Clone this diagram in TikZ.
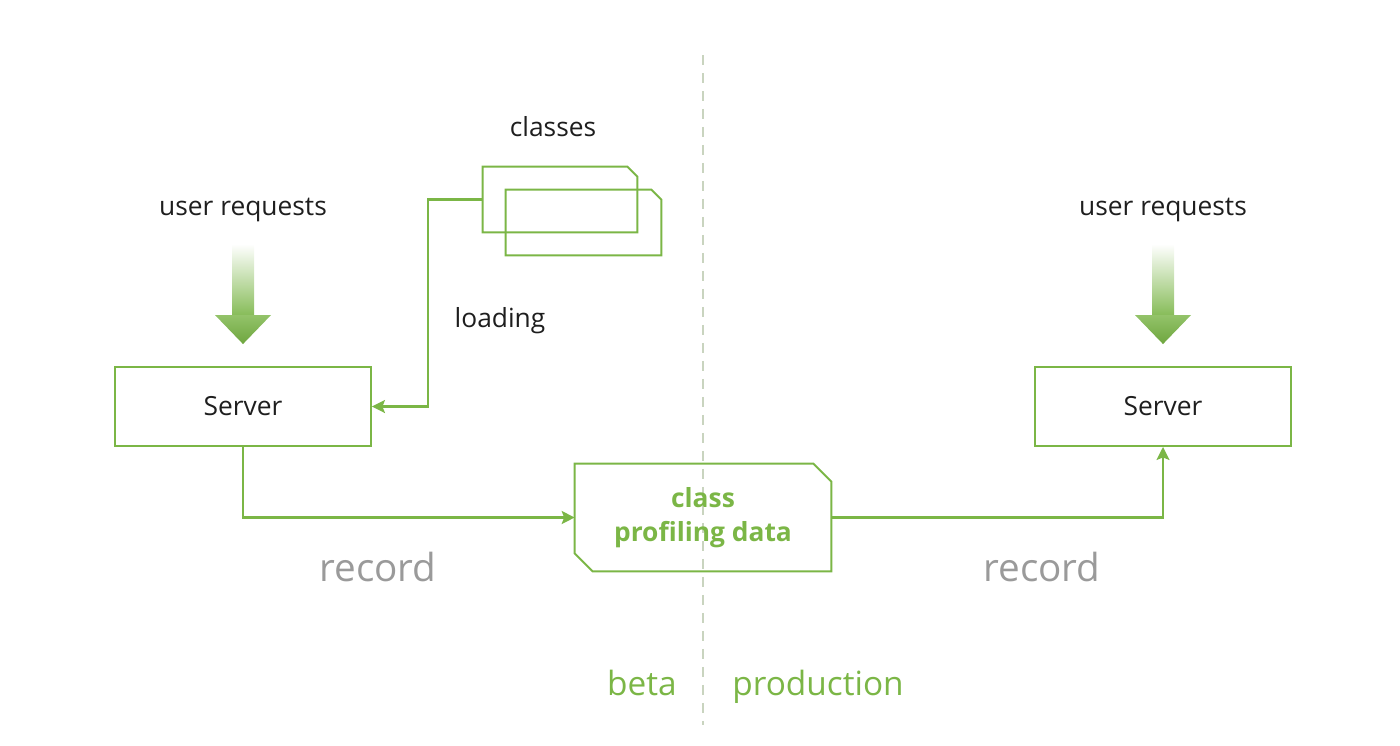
\documentclass[tikz,border=0pt]{standalone}
\usepackage{fontspec}
\setmainfont{Open Sans}
\usetikzlibrary{calc,arrows.meta}

\definecolor{lgreen}{HTML}{7BB646}
\definecolor{agreen}{HTML}{78B444}
\definecolor{recgrey}{HTML}{9A9A9A}
\definecolor{divgrey}{HTML}{C9D4BF}
\definecolor{txt}{HTML}{1E1E1E}

\tikzset{
  box/.style={draw=lgreen, line width=1.1pt, minimum width=5.12cm, minimum height=1.58cm, font=\fontsize{15}{18}\selectfont, text=txt},
  lbl/.style={font=\fontsize{15}{18}\selectfont, text=txt},
  rec/.style={font=\fontsize{22}{26}\selectfont, text=recgrey},
  env/.style={font=\fontsize{19}{22}\selectfont, text=lgreen},
  conn/.style={draw=lgreen, line width=1.2pt, -{Stealth[length=0.26cm, width=0.26cm, inset=0.05cm]}},
  outline/.style={draw=lgreen, line width=1.1pt},
}

% richieste in ingresso, freccia sfumata sopra un server
\newcommand{\reqarrow}[1]{%
  \shade[top color=white, bottom color=agreen!90] ($(#1.north)+(-11,-122)$) rectangle ($(#1.north)+(11,-50)$);
  \shade[top color=agreen!80!white, bottom color=agreen!92!black] ($(#1.north)+(-28,-51)$) -- ($(#1.north)+(28,-51)$) -- ($(#1.north)+(0,-22)$) -- cycle;
}

% documento con angolo tagliato
\newcommand{\docshape}[2]{%
  \draw[outline] (#1.south west) -- (#1.north west) -- ($(#1.north east)+(-#2,0)$) -- ($(#1.north east)+(0,#2)$) -- (#1.south east) -- cycle;
}

\begin{document}
\begin{tikzpicture}[x=0.02cm, y=-0.02cm]
	\useasboundingbox (0,0) rectangle (1400,745);
	
	% Separatore beta / production
	\draw[divgrey, line width=0.8pt, dash pattern=on 0.2cm off 0.16cm] (703,55) -- (703,725);
	
	% Server
	\node[box] (srvL) at (243,406.5) {Server};
	\node[box] (srvR) at (1163,406.5) {Server};
	
	% Richieste utente
	\node[lbl] (reqL) at (243,210) {user requests};
	\node[lbl] (reqR) at (1163,210) {user requests};
	\reqarrow{srvL}
	\reqarrow{srvR}
	
	% Classi
	\node[lbl] (clslbl) at (553,127) {classes};
	\node[minimum width=3.08cm, minimum height=1.3cm, inner sep=0pt] (clsback) at (560,199.5) {};
	\node[minimum width=3.1cm, minimum height=1.3cm, inner sep=0pt] (clsfront) at (583.5,222.5) {};
	\docshape{clsback}{10}
	\docshape{clsfront}{10}
	\node[lbl] (loadlbl) at (500,321) {loading};
	\draw[conn] (clsback.west) -- ++(-55,0) |- (srvL.east);
	
	% Dati di profiling
	\node[minimum width=5.12cm, minimum height=2.14cm, inner sep=0pt, align=center, text=lgreen, font=\fontsize{15}{19}\selectfont\bfseries] (prof) at (703,517.5) {class\\profiling data};
	\draw[outline] (prof.north west) -- ($(prof.north east)+(-18,0)$) -- ($(prof.north east)+(0,18)$) -- (prof.south east) -- ($(prof.south west)+(18,0)$) -- ($(prof.south west)+(0,-18)$) -- cycle;
	\draw[conn] (srvL.south) |- (prof.west);
	\draw[conn] (prof.east) -| (srvR.south);
	
	% Etichette
	\node[rec] (recL) at (378,567) {record};
	\node[rec] (recR) at (1042,567) {record};
	\node[env] (beta) at (642,683) {beta};
	\node[env] (prod) at (818,687) {production};
\end{tikzpicture}
\end{document}
